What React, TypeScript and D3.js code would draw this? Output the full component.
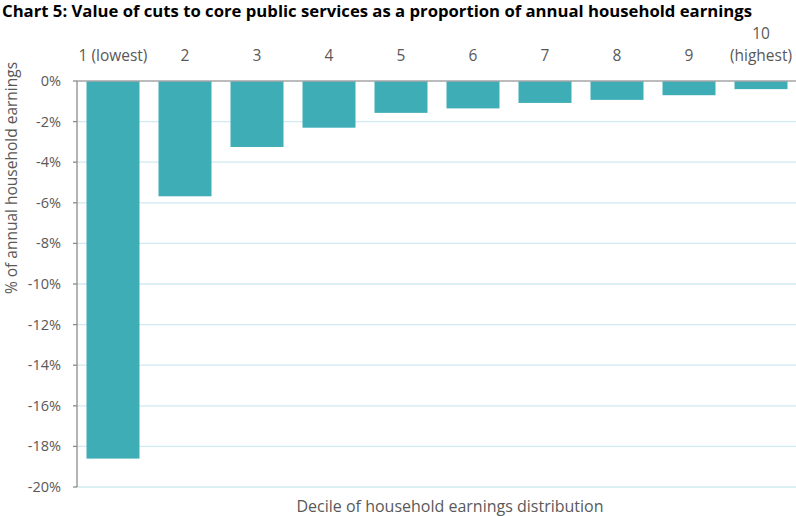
import React from "react";
import * as d3 from "d3";

const categories = ["1 (lowest)", "2", "3", "4", "5", "6", "7", "8", "9", "10 (highest)"];
const values = [-18.6, -5.68, -3.25, -2.3, -1.57, -1.35, -1.08, -0.93, -0.7, -0.4];
const yTicks = [0, -2, -4, -6, -8, -10, -12, -14, -16, -18, -20];

const W = 796, H = 516;
const margin = { left: 77, right: -1, top: 81, bottom: 29 };

export default function App() {
  const x = d3.scaleBand<string>().domain(categories).range([margin.left, W - margin.right]).paddingInner(0.264).paddingOuter(0.132);
  const y = d3.scaleLinear().domain([0, -20]).range([margin.top, H - margin.bottom]);
  const font = "'Open Sans', 'Noto Sans', sans-serif";
  const grey = "#595959";
  return (
    <svg width={W} height={H} style={{ position: "absolute", left: 0, top: 0 }} fontFamily={font}>
      <rect width={W} height={H} fill="#fff" />
      <text x={2} y={17} fontSize={16.7} fontWeight="bold" fill="#000">Chart 5: Value of cuts to core public services as a proportion of annual household earnings</text>
      {yTicks.slice(1).map(t => (
        <line key={"g" + t} x1={margin.left} x2={W} y1={y(t)} y2={y(t)} stroke="#cfeaf0" strokeWidth={1.3} />
      ))}
      {categories.map((c, i) => (
        <rect key={c} x={x(c)} y={y(0)} width={x.bandwidth()} height={y(values[i]) - y(0)} fill="#3eadb6" />
      ))}
      <line x1={margin.left} x2={W} y1={y(0)} y2={y(0)} stroke="#a6a6a6" strokeWidth={1.3} />
      <line x1={margin.left} x2={margin.left} y1={y(0)} y2={y(-20)} stroke="#8c8c8c" strokeWidth={1.3} />
      {yTicks.map(t => (
        <g key={"t" + t}>
          <line x1={margin.left - 4} x2={margin.left} y1={y(t)} y2={y(t)} stroke="#8c8c8c" strokeWidth={1.3} />
          <text x={61} y={y(t)} dy="0.35em" textAnchor="end" fontSize={14.5} fill={grey}>{t === 0 ? "0%" : `-${Math.abs(t)}%`}</text>
        </g>
      ))}
      {categories.map(c => {
        const cx = (x(c) as number) + x.bandwidth() / 2;
        const parts = c.startsWith("10") ? ["10", "(highest)"] : [c];
        return (
          <text key={"l" + c} x={cx} textAnchor="middle" fontSize={15.5} fill={grey}>
            {parts.map((p, j) => (
              <tspan key={j} x={cx} y={61 - (parts.length - 1 - j) * 22}>{p}</tspan>
            ))}
          </text>
        );
      })}
      <text transform={`translate(17,178) rotate(-90)`} textAnchor="middle" fontSize={15.5} fill={grey}>% of annual household earnings</text>
      <text x={450} y={512} textAnchor="middle" fontSize={16} fill={grey}>Decile of household earnings distribution</text>
    </svg>
  );
}
